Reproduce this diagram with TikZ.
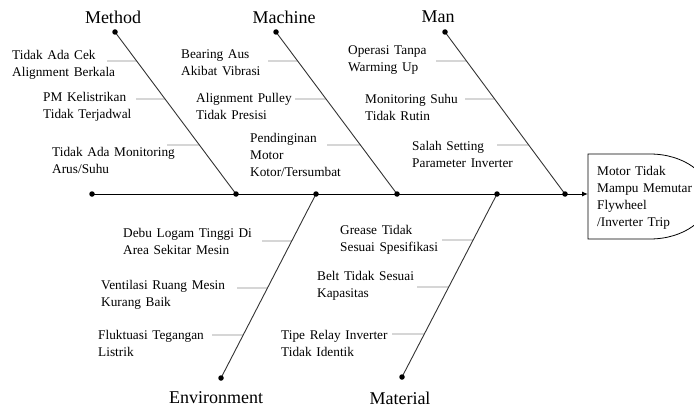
\documentclass[tikz,border=0pt]{standalone}
\usepackage{fontspec}
\setmainfont{Liberation Serif}[WordSpace=1.4]
\usetikzlibrary{calc, arrows.meta}
\tikzstyle{cause}=[align=left, inner sep=0pt, anchor=west, font=\fontsize{13.3}{17}\selectfont]
\tikzstyle{cat}=[inner sep=0pt, font=\fontsize{18}{20}\selectfont]
\tikzstyle{bone}=[draw=black!80, line width=0.9pt]
\tikzstyle{tick}=[draw=black!45, line width=0.8pt]
\tikzstyle{spine}=[draw=black, line width=1pt, -{Latex[length=6pt,width=5pt]}]
\tikzstyle{dot}=[fill=black, circle, inner sep=0pt, minimum size=5.5pt]

\begin{document}
\begin{tikzpicture}[x=1pt, y=-1pt]
		\useasboundingbox (0,0) rectangle (694,412);
		% bones
		\coordinate (spL) at (92,194);
		\coordinate (boxL) at (588,194);
		\coordinate (meT) at (115,32);  \coordinate (meB) at (236,194);
		\coordinate (maT) at (276,32);  \coordinate (maB) at (397,194);
		\coordinate (mnT) at (445,32);  \coordinate (mnB) at (565,194);
		\coordinate (enT) at (316,194); \coordinate (enB) at (221,378);
		\coordinate (mtT) at (497,194); \coordinate (mtB) at (402,377);
		
		\node (method) [cat] at (113,17) {Method};
		\node (machine) [cat] at (284,17) {Machine};
		\node (man) [cat] at (438,17) {Man};
		\node (env) [cat] at (216,398) {Environment};
		\node (material) [cat] at (400,398) {Material};
		
		\node (effect) [cause] at (597,198) {Motor Tidak\\Mampu Memutar\\Flywheel\\/Inverter Trip};
		\draw[line width=0.8pt] (588,154) -- (650,154) arc[start angle=90, end angle=-90, x radius=60, y radius=-42.5] -- (588,239) -- cycle;
		
		% causes
		\node (me1) [cause] at (12,64.5) {Tidak Ada Cek\\Alignment Berkala};
		\node (me2) [cause] at (43,107) {PM Kelistrikan\\Tidak Terjadwal};
		\node (me3) [cause] at (52,160) {Tidak Ada Monitoring\\Arus/Suhu};
		\node (ma1) [cause] at (181,62.5) {Bearing Aus\\Akibat Vibrasi};
		\node (ma2) [cause] at (196,106.5) {Alignment Pulley\\Tidak Presisi};
		\node (ma3) [cause] at (250,154.5) {Pendinginan\\Motor\\Kotor/Tersumbat};
		\node (mn1) [cause] at (348,60) {Operasi Tanpa\\Warming Up};
		\node (mn2) [cause] at (365,107) {Monitoring Suhu\\Tidak Rutin};
		\node (mn3) [cause] at (412,154) {Salah Setting\\Parameter Inverter};
		\node (en1) [cause] at (123,241.5) {Debu Logam Tinggi Di\\Area Sekitar Mesin};
		\node (en2) [cause] at (101,295) {Ventilasi Ruang Mesin\\Kurang Baik};
		\node (en3) [cause] at (98,343) {Fluktuasi Tegangan\\Listrik};
		\node (mt1) [cause] at (340,239.5) {Grease Tidak\\Sesuai Spesifikasi};
		\node (mt2) [cause] at (317,285.5) {Belt Tidak Sesuai\\Kapasitas};
		\node (mt3) [cause] at (281,343) {Tipe Relay Inverter\\Tidak Identik};
		
		% tick start points
		\coordinate (me1s) at (107,61);  \coordinate (me2s) at (136,99);  \coordinate (me3s) at (167,145);
		\coordinate (ma1s) at (268,61);  \coordinate (ma2s) at (295,99);  \coordinate (ma3s) at (327,145);
		\coordinate (mn1s) at (436,61);  \coordinate (mn2s) at (465,99);  \coordinate (mn3s) at (497,145);
		\coordinate (en1s) at (262,241); \coordinate (en2s) at (237,288); \coordinate (en3s) at (212,335);
		\coordinate (mt1s) at (442,240); \coordinate (mt2s) at (417,287); \coordinate (mt3s) at (392,334);
		
		\draw[tick] (me1s) -- ($(meT)!0.179!(meB)$);
		\draw[tick] (me2s) -- ($(meT)!0.414!(meB)$);
		\draw[tick] (me3s) -- ($(meT)!0.698!(meB)$);
		\draw[tick] (ma1s) -- ($(maT)!0.179!(maB)$);
		\draw[tick] (ma2s) -- ($(maT)!0.414!(maB)$);
		\draw[tick] (ma3s) -- ($(maT)!0.698!(maB)$);
		\draw[tick] (mn1s) -- ($(mnT)!0.179!(mnB)$);
		\draw[tick] (mn2s) -- ($(mnT)!0.414!(mnB)$);
		\draw[tick] (mn3s) -- ($(mnT)!0.698!(mnB)$);
		\draw[tick] (en1s) -- ($(enT)!0.255!(enB)$);
		\draw[tick] (en2s) -- ($(enT)!0.511!(enB)$);
		\draw[tick] (en3s) -- ($(enT)!0.766!(enB)$);
		\draw[tick] (mt1s) -- ($(mtT)!0.251!(mtB)$);
		\draw[tick] (mt2s) -- ($(mtT)!0.508!(mtB)$);
		\draw[tick] (mt3s) -- ($(mtT)!0.765!(mtB)$);
		
		\draw[bone] (meT) -- (meB);
		\draw[bone] (maT) -- (maB);
		\draw[bone] (mnT) -- (mnB);
		\draw[bone] (enT) -- (enB);
		\draw[bone] (mtT) -- (mtB);
		\draw[spine] (spL) -- (boxL);
		
		\foreach \p in {spL,meT,meB,maT,maB,mnT,mnB,enT,enB,mtT,mtB}
			\node[dot] at (\p) {};
		
		\end{tikzpicture}
\end{document}
